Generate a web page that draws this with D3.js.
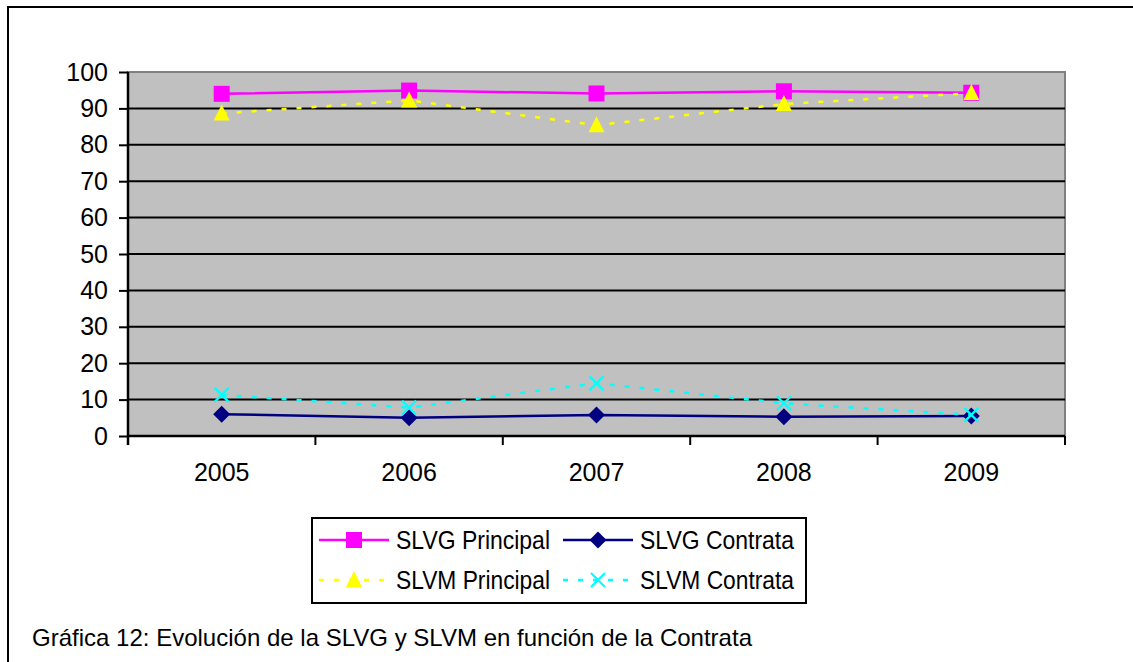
<!DOCTYPE html>
<html>
<head>
<meta charset="utf-8">
<script src="https://cdn.jsdelivr.net/npm/d3@7"></script>
<style>
  body { margin: 0; background: #fff; }
  text { font-family: "Liberation Sans", Arial, sans-serif; fill: #000; }
</style>
</head>
<body>
<div id="chart"></div>
<script>
// data
var years = ["2005", "2006", "2007", "2008", "2009"];
var slvgPrincipal = [94.0, 94.9, 94.1, 94.7, 94.3];
var slvgContrata  = [6.0, 5.0, 5.8, 5.3, 5.5];
var slvmPrincipal = [88.6, 92.2, 85.4, 91.2, 94.2];
var slvmContrata  = [11.3, 7.8, 14.5, 9.0, 5.8];
var yTicks = [0, 10, 20, 30, 40, 50, 60, 70, 80, 90, 100];
var seriesNames = ["SLVG Principal", "SLVG Contrata", "SLVM Principal", "SLVM Contrata"];
var caption = "Gráfica 12: Evolución de la SLVG y SLVM en función de la Contrata";

var W = 1133, H = 662;
var plot = {left: 128, right: 1065, top: 72, bottom: 436};

var series = [
  {name: seriesNames[0], values: slvgPrincipal, color: "#ff00ff", dash: null, marker: "square"},
  {name: seriesNames[1], values: slvgContrata, color: "#000080", dash: null, marker: "diamond"},
  {name: seriesNames[2], values: slvmPrincipal, color: "#ffff00", dash: "5,10", marker: "triangle"},
  {name: seriesNames[3], values: slvmContrata, color: "#00ffff", dash: "5,10", marker: "cross"}
];

var svg = d3.select("#chart").append("svg")
    .attr("width", W)
    .attr("height", H);

// outer frame (runs off the page on the right and bottom)
svg.append("rect")
    .attr("x", 8).attr("y", 7)
    .attr("width", 1200).attr("height", 700)
    .attr("fill", "#fff")
    .attr("stroke", "#000")
    .attr("stroke-width", 2);

// scales
var x = d3.scaleBand()
    .domain(years)
    .range([plot.left, plot.right]);

var y = d3.scaleLinear()
    .domain([0, 100])
    .range([plot.bottom, plot.top]);

function cx(i) { return x(years[i]) + x.bandwidth() / 2; }

// plot area
svg.append("rect")
    .attr("x", plot.left).attr("y", y(100))
    .attr("width", plot.right - plot.left)
    .attr("height", y(0) - y(100))
    .attr("fill", "#c0c0c0")
    .attr("stroke", "#808080")
    .attr("stroke-width", 2);

// gridlines
svg.append("g").selectAll("line")
    .data(yTicks.filter(function(d) { return d > 0 && d < 100; }))
    .enter().append("line")
    .attr("x1", plot.left).attr("x2", plot.right)
    .attr("y1", function(d) { return y(d); })
    .attr("y2", function(d) { return y(d); })
    .attr("stroke", "#000")
    .attr("stroke-width", 2);

// y axis
var yAxis = svg.append("g")
    .attr("transform", "translate(" + plot.left + ",0)")
    .call(d3.axisLeft(y).tickValues(yTicks).tickSize(9).tickPadding(11));
yAxis.select(".domain").attr("stroke", "#000").attr("stroke-width", 2.5)
    .attr("d", "M0," + y(100) + "V" + (y(0) + 9));
yAxis.selectAll(".tick line").attr("stroke", "#000").attr("stroke-width", 2);
yAxis.selectAll(".tick text")
    .style("font-family", "'Liberation Sans', Arial, sans-serif")
    .style("font-size", "25px")
    .attr("fill", "#000");

// x axis
var xAxis = svg.append("g")
    .attr("transform", "translate(0," + plot.bottom + ")")
    .call(d3.axisBottom(x).tickSize(0).tickPadding(27));
xAxis.select(".domain").remove();
xAxis.selectAll(".tick text")
    .style("font-family", "'Liberation Sans', Arial, sans-serif")
    .style("font-size", "25px")
    .attr("fill", "#000");
svg.append("line")
    .attr("x1", plot.left).attr("x2", plot.right)
    .attr("y1", plot.bottom).attr("y2", plot.bottom)
    .attr("stroke", "#000").attr("stroke-width", 2.5);
var bounds = years.map(function(d) { return x(d); }).concat([plot.right]);
svg.append("g").selectAll("line")
    .data(bounds)
    .enter().append("line")
    .attr("x1", function(d) { return d; })
    .attr("x2", function(d) { return d; })
    .attr("y1", plot.bottom).attr("y2", plot.bottom + 9)
    .attr("stroke", "#000").attr("stroke-width", 2);

// markers
function drawMarker(g, type, color, px, py) {
  if (type === "square") {
    g.append("rect")
        .attr("x", px - 8).attr("y", py - 8)
        .attr("width", 16).attr("height", 16)
        .attr("fill", color);
  } else if (type === "diamond") {
    g.append("path")
        .attr("d", "M" + px + "," + (py - 8.5) + "L" + (px + 8.5) + "," + py +
                   "L" + px + "," + (py + 8.5) + "L" + (px - 8.5) + "," + py + "Z")
        .attr("fill", color);
  } else if (type === "triangle") {
    g.append("path")
        .attr("d", "M" + px + "," + (py - 9) + "L" + (px + 8) + "," + (py + 7) +
                   "L" + (px - 8) + "," + (py + 7) + "Z")
        .attr("fill", color);
  } else if (type === "cross") {
    g.append("path")
        .attr("d", "M" + (px - 7) + "," + (py - 7) + "L" + (px + 7) + "," + (py + 7) +
                   "M" + (px + 7) + "," + (py - 7) + "L" + (px - 7) + "," + (py + 7))
        .attr("stroke", color)
        .attr("stroke-width", 2.2)
        .attr("fill", "none");
  }
}

var line = d3.line()
    .x(function(d, i) { return cx(i); })
    .y(function(d) { return y(d); });

series.forEach(function(s) {
  var g = svg.append("g");
  g.append("path")
      .datum(s.values)
      .attr("d", line)
      .attr("fill", "none")
      .attr("stroke", s.color)
      .attr("stroke-width", 2.5)
      .attr("stroke-dasharray", s.dash);
  s.values.forEach(function(v, i) {
    drawMarker(g, s.marker, s.color, cx(i), y(v));
  });
});

// legend
var legend = svg.append("g");
legend.append("rect")
    .attr("x", 312).attr("y", 518)
    .attr("width", 494).attr("height", 85)
    .attr("fill", "#fff")
    .attr("stroke", "#000")
    .attr("stroke-width", 2);

var legendPos = [
  {x: 319, y: 540}, {x: 563, y: 540},
  {x: 319, y: 580}, {x: 563, y: 580}
];

series.forEach(function(s, i) {
  var p = legendPos[i];
  legend.append("line")
      .attr("x1", p.x).attr("x2", p.x + 70)
      .attr("y1", p.y).attr("y2", p.y)
      .attr("stroke", s.color)
      .attr("stroke-width", 2.5)
      .attr("stroke-dasharray", s.dash);
  drawMarker(legend, s.marker, s.color, p.x + 35, p.y);
  legend.append("text")
      .attr("x", p.x + 77)
      .attr("y", p.y + 9)
      .attr("textLength", 154)
      .attr("lengthAdjust", "spacingAndGlyphs")
      .style("font-size", "25px")
      .text(s.name);
});

// caption
svg.append("text")
    .attr("x", 32)
    .attr("y", 646)
    .attr("textLength", 720)
    .attr("lengthAdjust", "spacingAndGlyphs")
    .style("font-size", "24px")
    .text(caption);
</script>
</body>
</html>
